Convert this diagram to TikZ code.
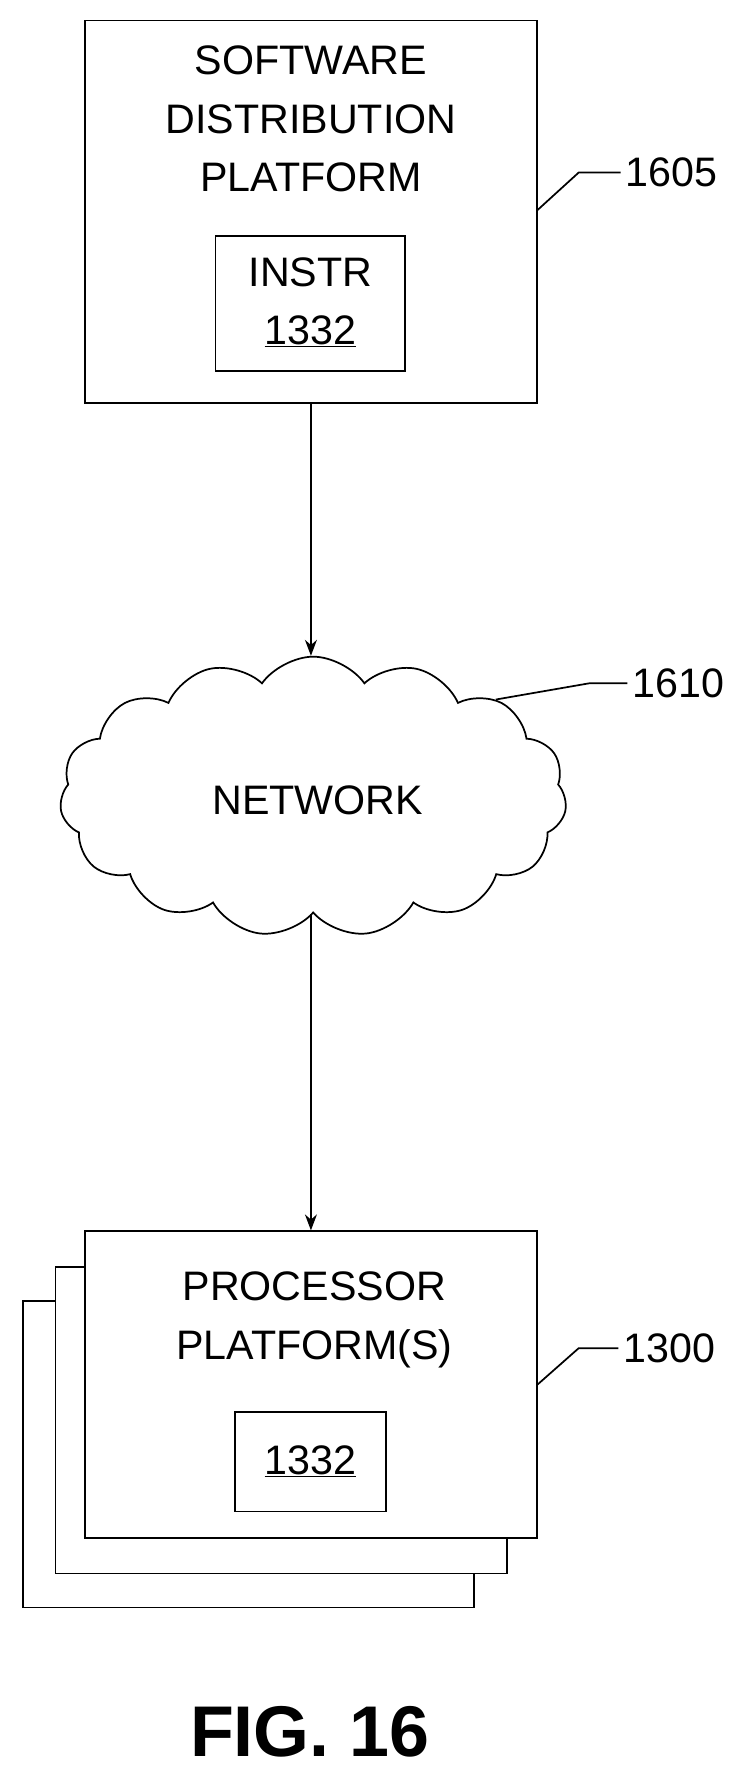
\documentclass[tikz,border=0pt]{standalone}
\usepackage{fontspec}
\setmainfont{Liberation Sans}
\usetikzlibrary{arrows.meta, positioning, shapes.symbols}

\begin{document}
\begin{tikzpicture}[
  x=0.03cm, y=-0.03cm, line width=1.3pt,
  every node/.style={font=\fontsize{31}{44}\selectfont},
  platbox/.style={rectangle, draw, fill=white, minimum width=11.94cm, minimum height=#1, inner sep=0pt},
  innerbox/.style={rectangle, draw, align=center, inner sep=0pt},
  leader/.style={draw},
  reflabel/.style={anchor=center},
]
\useasboundingbox (0,0) rectangle (660,1558);

% top platform
\node[platbox=10.11cm] (sdp) at (274,186.5) {};
\node[align=center, anchor=north] (sdptext) at (274,36) {SOFTWARE\\DISTRIBUTION\\PLATFORM};
\node[innerbox, minimum width=5.01cm, minimum height=3.57cm] (instr) at (273.5,267.5) {};
\node (instrtext) at (273.5,240) {INSTR};
\node (instrnum) at (273.5,292) {\underline{1332}};

% network cloud
\node[cloud, draw, cloud puffs=15, cloud puff arc=110, aspect=1.9,
      minimum width=13.4cm, minimum height=7.4cm, inner sep=0pt] (net) at (276,702) {};
\node (nettext) at (280,705) {NETWORK};

% processor platforms, stacked
\node[platbox=8.1cm] (pp3) at (219,1281.5) {};
\node[platbox=8.1cm] (pp2) at (248,1251.5) {};
\node[platbox=8.1cm] (pp1) at (274,1220) {};
\node[align=center, anchor=north] (pptext) at (277,1116) {PROCESSOR\\PLATFORM(S)};
\node[innerbox, minimum width=3.99cm, minimum height=2.64cm] (ppinstr) at (273.5,1288) {\underline{1332}};

% arrows
\draw[-{Stealth[length=12pt,width=9pt]}] (sdp.south) -- (net.north -| sdp.south);
\draw[-{Stealth[length=12pt,width=9pt]}] (net.south -| sdp.south) -- (pp1.north -| sdp.south);

% reference labels
\node[reflabel] (l1605) at (592,152) {1605};
\node[reflabel] (l1610) at (598,602) {1610};
\node[reflabel] (l1300) at (590,1188) {1300};
\draw[leader] (sdp.east |- 0,185) -- (510,152) -- (l1605.west);
\draw[leader] (net.28) -- (520,602) -- (l1610.west);
\draw[leader] (pp1.east |- 0,1220) -- (510,1188) -- (l1300.west);

% caption
\node[font=\bfseries\fontsize{54}{60}\selectfont] (fig) at (273,1526) {FIG. 16};
\end{tikzpicture}
\end{document}
